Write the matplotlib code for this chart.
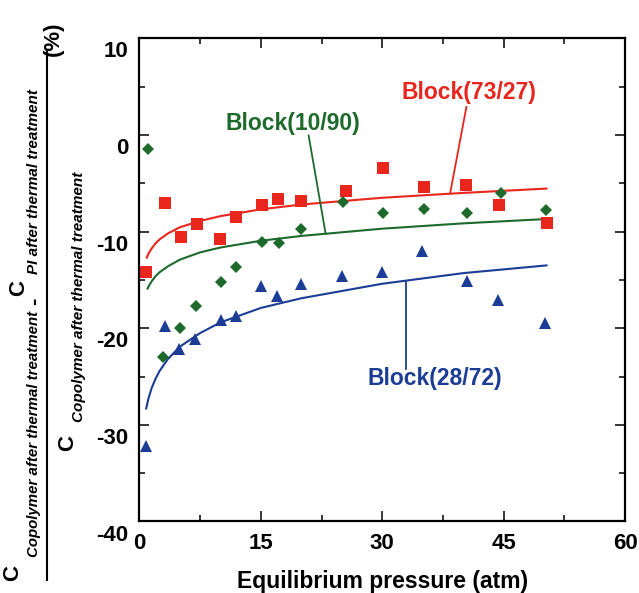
import matplotlib
matplotlib.use('Agg')
from matplotlib import pyplot as plt
from matplotlib.lines import Line2D
import matplotlib.transforms as mtransforms

plt.rcParams['font.family'] = ['Liberation Sans', 'DejaVu Sans']
plt.rcParams['font.weight'] = 'bold'
plt.rcParams['axes.labelweight'] = 'bold'
plt.rcParams['axes.unicode_minus'] = False

RED = '#e8261d'
GREEN = '#1d6a2c'
BLUE = '#1b3d95'

# measured points
red_x = [0.83, 3.2, 5.07, 7.13, 9.9, 11.9, 15.1, 17.1, 20.0, 25.5, 30.1, 35.1, 40.3, 44.4, 50.3]
red_y = [-14.2, -7.0, -10.6, -9.2, -10.8, -8.5, -7.2, -6.6, -6.8, -5.8, -3.4, -5.4, -5.2, -7.3, -9.1]

green_x = [1.1, 2.9, 5.0, 7.0, 10.05, 11.95, 15.1, 17.2, 19.9, 25.1, 30.1, 35.1, 40.5, 44.7, 50.2]
green_y = [-1.45, -23.0, -20.0, -17.7, -15.2, -13.7, -11.1, -11.2, -9.7, -6.9, -8.1, -7.65, -8.1, -6.0, -7.75]

blue_x = [0.83, 3.1, 4.9, 6.9, 10.1, 11.95, 15.0, 17.0, 19.9, 25.0, 30.0, 34.9, 40.5, 44.3, 50.1]
blue_y = [-32.2, -19.8, -22.2, -21.1, -19.1, -18.7, -15.6, -16.7, -15.4, -14.6, -14.2, -12.0, -15.1, -17.1, -19.5]

# fitted curves
red_fit_x = [0.9, 1.1, 1.5, 2.0, 2.5, 3.5, 5, 7.5, 10, 15, 20, 30, 40, 50.3]
red_fit_y = [-12.7, -12.3, -11.75, -11.2, -10.8, -10.2, -9.55, -8.9, -8.4, -7.7, -7.2, -6.5, -6.0, -5.55]

green_fit_x = [1.0, 1.2, 1.5, 2.0, 2.5, 3.5, 5, 7.5, 10, 15, 20, 30, 40, 50.3]
green_fit_y = [-15.9, -15.55, -15.15, -14.6, -14.2, -13.6, -12.9, -12.15, -11.65, -10.95, -10.45, -9.7, -9.15, -8.7]

blue_fit_x = [0.83, 1.1, 1.5, 2.0, 2.5, 3.5, 5, 7.5, 10, 15, 20, 30, 40, 50.3]
blue_fit_y = [-28.3, -27.3, -26.2, -25.2, -24.4, -23.2, -21.9, -20.5, -19.4, -17.9, -16.9, -15.4, -14.3, -13.5]

x_ticks = [0, 15, 30, 45, 60]
y_ticks = [-40, -30, -20, -10, 0, 10]

fig = plt.figure(figsize=(6.39, 5.93), dpi=100)
ax = fig.add_axes([0.2183, 0.1206, 0.7598, 0.8148])

ax.plot(red_fit_x, red_fit_y, color=RED, lw=1.5)
ax.plot(green_fit_x, green_fit_y, color=GREEN, lw=1.5)
ax.plot(blue_fit_x, blue_fit_y, color=BLUE, lw=1.5)

ax.plot(red_x, red_y, 's', color=RED, ms=8.5, mew=0, clip_on=False)
ax.plot(green_x, green_y, 'D', color=GREEN, ms=6, mew=0, clip_on=False)
ax.plot(blue_x, blue_y, '^', color=BLUE, ms=8, mew=0, clip_on=False)

# labels with pointer lines
ax.text(40.7, 4.4, 'Block(73/27)', color=RED, fontsize=16.5, ha='center', va='center')
ax.plot([40.4, 38.4], [2.9, -6.0], color=RED, lw=1.3)
ax.text(19.0, 1.2, 'Block(10/90)', color=GREEN, fontsize=16.5, ha='center', va='center')
ax.plot([20.9, 23.0], [-0.05, -10.2], color=GREEN, lw=1.3)
ax.text(36.5, -25.2, 'Block(28/72)', color=BLUE, fontsize=16.5, ha='center', va='center')
ax.plot([32.9, 32.9], [-15.1, -24.2], color=BLUE, lw=1.3)

ax.set_xlim(0, 60)
ax.set_ylim(-40, 10)
ax.set_xticks(x_ticks)
ax.set_yticks(y_ticks)
ax.set_xticks([7.5, 22.5, 37.5, 52.5], minor=True)
ax.set_yticks([-35, -25, -15, -5, 5], minor=True)
ax.tick_params(which='both', direction='in', top=True, right=True, width=1.1, labelsize=16)
ax.tick_params(which='major', length=7.5, pad=8)
ax.tick_params(which='minor', length=4.3)
for sp in ax.spines.values():
    sp.set_linewidth(1.6)

# y tick labels sit a little low in the original
shift = mtransforms.ScaledTranslation(0, -8 / 72, fig.dpi_scale_trans)
for lab in ax.get_yticklabels():
    lab.set_transform(lab.get_transform() + shift)

ax.set_xlabel('Equilibrium pressure (atm)', fontsize=16.5, labelpad=12)

# y label built as a fraction
W, H = 639, 593


def ftext(px, py, s, size, style='normal'):
    fig.text(px / W, 1 - py / H, s, rotation=90, rotation_mode='anchor',
             ha='left', va='baseline', fontsize=size, fontstyle=style)


ftext(18, 581, 'C', 16)
ftext(38, 557, 'Copolymer after thermal treatment', 10.8, 'italic')
ftext(40, 305, '-', 16)
ftext(24, 296, 'C', 16)
ftext(38, 274, 'PI after thermal treatment', 11, 'italic')
ftext(59, 56, '(%)', 16)
ftext(73, 451, 'C', 16)
ftext(83, 422, 'Copolymer after thermal treatment', 11, 'italic')
fig.add_artist(Line2D([47 / W, 47 / W], [1 - 580 / H, 1 - 52 / H], color='black', lw=1.5))

fig.savefig('out.png', dpi=100)
